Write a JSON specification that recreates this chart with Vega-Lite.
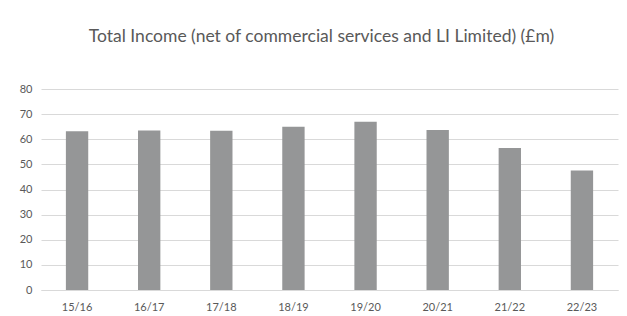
{
  "$schema": "https://vega.github.io/schema/vega-lite/v6.json",
  "width": 577,
  "height": 201,
  "autosize": {"type": "none"},
  "padding": {"left": 41, "top": 89, "right": 9, "bottom": 26},
  "background": "white",
  "title": {
    "text": "Total Income (net of commercial services and LI Limited) (£m)",
    "font": "Lato",
    "fontSize": 17.5,
    "fontWeight": "normal",
    "color": "#595959",
    "anchor": "middle",
    "dx": -8,
    "offset": 38
  },
  "data": {
    "values": [
      {"year": "15/16", "income": 63.2},
      {"year": "16/17", "income": 63.5},
      {"year": "17/18", "income": 63.4},
      {"year": "18/19", "income": 65.0},
      {"year": "19/20", "income": 67.0},
      {"year": "20/21", "income": 63.7},
      {"year": "21/22", "income": 56.5},
      {"year": "22/23", "income": 47.6}
    ]
  },
  "mark": {"type": "bar", "color": "#959697"},
  "encoding": {
    "x": {
      "field": "year",
      "type": "nominal",
      "sort": null,
      "title": null,
      "scale": {"paddingInner": 0.69, "paddingOuter": 0.345},
      "axis": {
        "labelAngle": 0,
        "ticks": false,
        "domain": true,
        "domainColor": "#d9d9d9",
        "domainWidth": 1.2,
        "labelPadding": 11,
        "labelFont": "Lato",
        "labelFontSize": 11,
        "labelColor": "#595959"
      }
    },
    "y": {
      "field": "income",
      "type": "quantitative",
      "title": null,
      "scale": {"domain": [0, 80], "nice": false},
      "axis": {
        "values": [0, 10, 20, 30, 40, 50, 60, 70, 80],
        "ticks": false,
        "domain": false,
        "grid": true,
        "gridColor": "#d9d9d9",
        "gridWidth": 1.2,
        "labelPadding": 9,
        "labelFont": "Lato",
        "labelFontSize": 11,
        "labelColor": "#595959"
      }
    }
  },
  "config": {"view": {"stroke": null}}
}
